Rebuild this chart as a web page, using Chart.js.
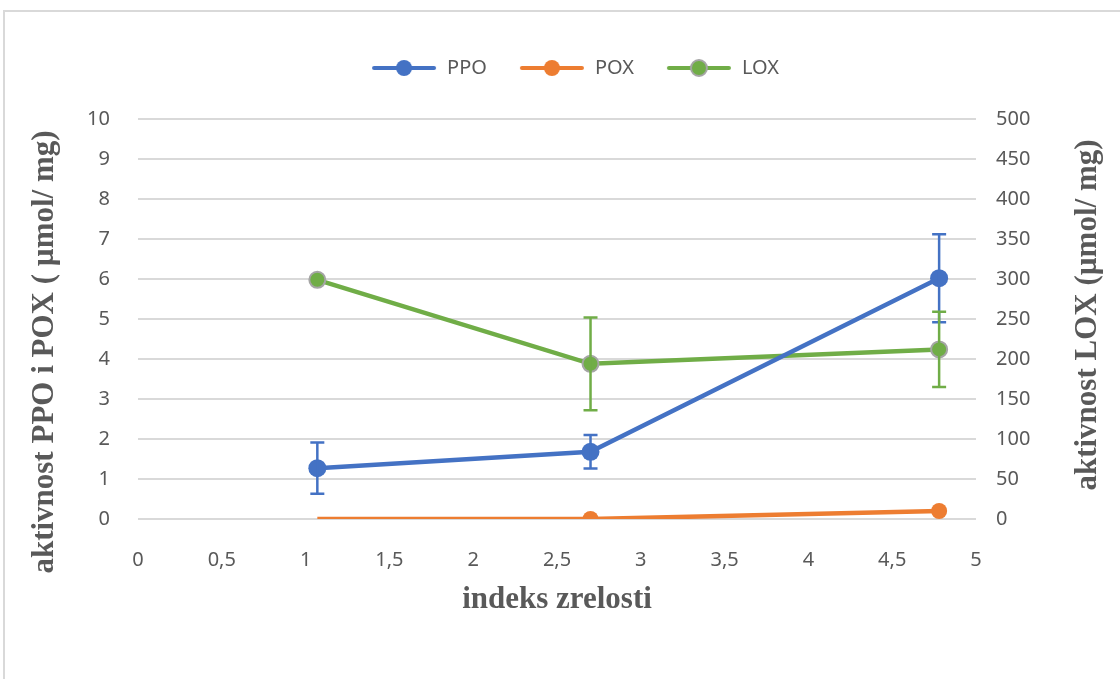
<!DOCTYPE html>
<html>
<head>
<meta charset="utf-8">
<script src="https://cdn.jsdelivr.net/npm/chart.js@4.4.0/dist/chart.umd.min.js"></script>
<style>
  html, body { margin: 0; padding: 0; background: #fff; }
  #frame { position: absolute; left: 3px; top: 10px; width: 1200px; height: 700px; border: 2px solid #d9d9d9; }
  #wrap { position: absolute; left: 0; top: 0; width: 1120px; height: 679px; }
</style>
</head>
<body>
<div id="frame"></div>
<div id="wrap"><canvas id="chart" width="1120" height="679"></canvas></div>
<script>
// ripeness index (x) for the three samples
const ripeness = [1.07, 2.7, 4.78]
// left axis: PPO and POX activity
const ppo = [1.27, 1.68, 6.02]
const ppoErr = [0.64, 0.42, 1.1]
const pox = [0.0, 0.0, 0.2]
// right axis: LOX activity
const lox = [299, 194, 212]
const loxErr = [0, 58, 47]

const blue = '#4472c4'
const orange = '#ed7d31'
const green = '#70ad47'
const textGray = '#595959'
const gridGray = '#d9d9d9'

const toPoints = (vals) => vals.map((v, i) => ({ x: ripeness[i], y: v }))
const comma = (v) => String(v).replace('.', ',')

// little line+dot picture used as legend symbol
function legendIcon(color, border) {
  const c = document.createElement('canvas')
  c.width = 66
  c.height = 20
  const g = c.getContext('2d')
  g.strokeStyle = color
  g.lineWidth = 4
  g.lineCap = 'round'
  g.beginPath()
  g.moveTo(3, 10)
  g.lineTo(63, 10)
  g.stroke()
  g.beginPath()
  g.arc(33, 10, 8, 0, Math.PI * 2)
  g.fillStyle = color
  g.fill()
  if (border) {
    g.lineWidth = 2
    g.strokeStyle = border
    g.stroke()
  }
  return c
}

// error bars drawn through the chart scales
const errorBars = {
  id: 'errorBars',
  afterDatasetsDraw(chart) {
    const ctx = chart.ctx
    const x = chart.scales.x
    chart.data.datasets.forEach((ds) => {
      if (!ds.errors) return
      const y = chart.scales[ds.yAxisID]
      ds.data.forEach((p, i) => {
        const e = ds.errors[i]
        if (!e) return
        const px = x.getPixelForValue(p.x)
        const top = y.getPixelForValue(p.y + e)
        const bot = y.getPixelForValue(p.y - e)
        ctx.save()
        ctx.strokeStyle = ds.borderColor
        ctx.lineWidth = 2.5
        ctx.beginPath()
        ctx.moveTo(px, top); ctx.lineTo(px, bot)
        ctx.moveTo(px - 7, top); ctx.lineTo(px + 7, top)
        ctx.moveTo(px - 7, bot); ctx.lineTo(px + 7, bot)
        ctx.stroke()
        ctx.restore()
      })
    })
  }
}

const titleFont = { family: '"Liberation Serif", serif', size: 31, weight: 'bold' }

// both vertical axis titles read bottom-to-top
const sideTitles = {
  id: 'sideTitles',
  afterDraw(chart) {
    const ctx = chart.ctx
    const draw = (text, x, y) => {
      ctx.save()
      ctx.translate(x, y)
      ctx.rotate(-Math.PI / 2)
      ctx.font = 'bold 31px "Liberation Serif"'
      ctx.fillStyle = textGray
      ctx.textAlign = 'center'
      ctx.textBaseline = 'middle'
      ctx.fillText(text, 0, 0)
      ctx.restore()
    }
    const l = chart.scales.y
    const r = chart.scales.y1
    draw('aktivnost PPO i POX ( µmol/ mg)', l.left + 15, (l.top + l.bottom) / 2 + 33)
    draw('aktivnost LOX (µmol/ mg)', r.right - 32, (r.top + r.bottom) / 2 - 4)
  }
}

const tickFont = { family: '"Noto Sans", sans-serif', size: 20 }

new Chart(document.getElementById('chart'), {
  type: 'line',
  data: {
    datasets: [
      {
        label: 'PPO', data: toPoints(ppo), errors: ppoErr, yAxisID: 'y',
        borderColor: blue, backgroundColor: blue, borderWidth: 4.5,
        pointRadius: 9, pointHoverRadius: 9, pointBorderWidth: 0,
        icon: legendIcon(blue)
      },
      {
        label: 'POX', data: toPoints(pox), yAxisID: 'y',
        borderColor: orange, backgroundColor: orange, borderWidth: 4.5,
        pointRadius: [0, 8, 8], pointHoverRadius: 8, pointBorderWidth: 0,
        icon: legendIcon(orange)
      },
      {
        label: 'LOX', data: toPoints(lox), errors: loxErr, yAxisID: 'y1',
        borderColor: green, backgroundColor: green, borderWidth: 4.5,
        pointRadius: 8, pointHoverRadius: 8, pointBorderWidth: 2, pointBorderColor: '#a5a5a5',
        icon: legendIcon(green, '#a5a5a5')
      }
    ]
  },
  options: {
    responsive: false,
    animation: false,
    layout: { padding: { top: 26, left: 30, right: 0, bottom: 60 } },
    plugins: {
      tooltip: { enabled: false },
      // empty title used as a spacer between legend and plot
      title: { display: true, text: ' ', font: { size: 10 }, padding: { top: 0, bottom: 19 }, weight: 500 },
      legend: {
        position: 'top',
        weight: 3000,
        labels: {
          usePointStyle: true,
          pointStyleWidth: 66,
          boxHeight: 20,
          padding: 32,
          color: textGray,
          font: tickFont,
          generateLabels(chart) {
            return chart.data.datasets.map((ds, i) => ({
              text: ds.label, pointStyle: ds.icon, datasetIndex: i,
              fontColor: textGray, lineWidth: 0, strokeStyle: 'transparent', fillStyle: 'transparent'
            }))
          }
        }
      }
    },
    scales: {
      x: {
        type: 'linear', min: 0, max: 5,
        ticks: { stepSize: 0.5, color: textGray, font: tickFont, padding: 21, callback: comma },
        grid: { display: false },
        border: { display: false },
        title: { display: true, text: 'indeks zrelosti', color: textGray, font: titleFont, padding: { top: 0, bottom: 0 } },
        afterFit(s) { s.height = 100 }
      },
      y: {
        position: 'left', min: 0, max: 10,
        ticks: { stepSize: 1, color: textGray, font: tickFont, padding: 28 },
        grid: { color: gridGray, lineWidth: 2, drawTicks: false },
        border: { display: false },
        afterFit(s) { s.width = 108 }
      },
      y1: {
        position: 'right', min: 0, max: 500,
        ticks: { stepSize: 50, color: textGray, font: tickFont, padding: 20 },
        grid: { display: false, drawTicks: false },
        border: { display: false },
        afterFit(s) { s.width = 144 }
      }
    }
  },
  plugins: [errorBars, sideTitles]
})
</script>
</body>
</html>
